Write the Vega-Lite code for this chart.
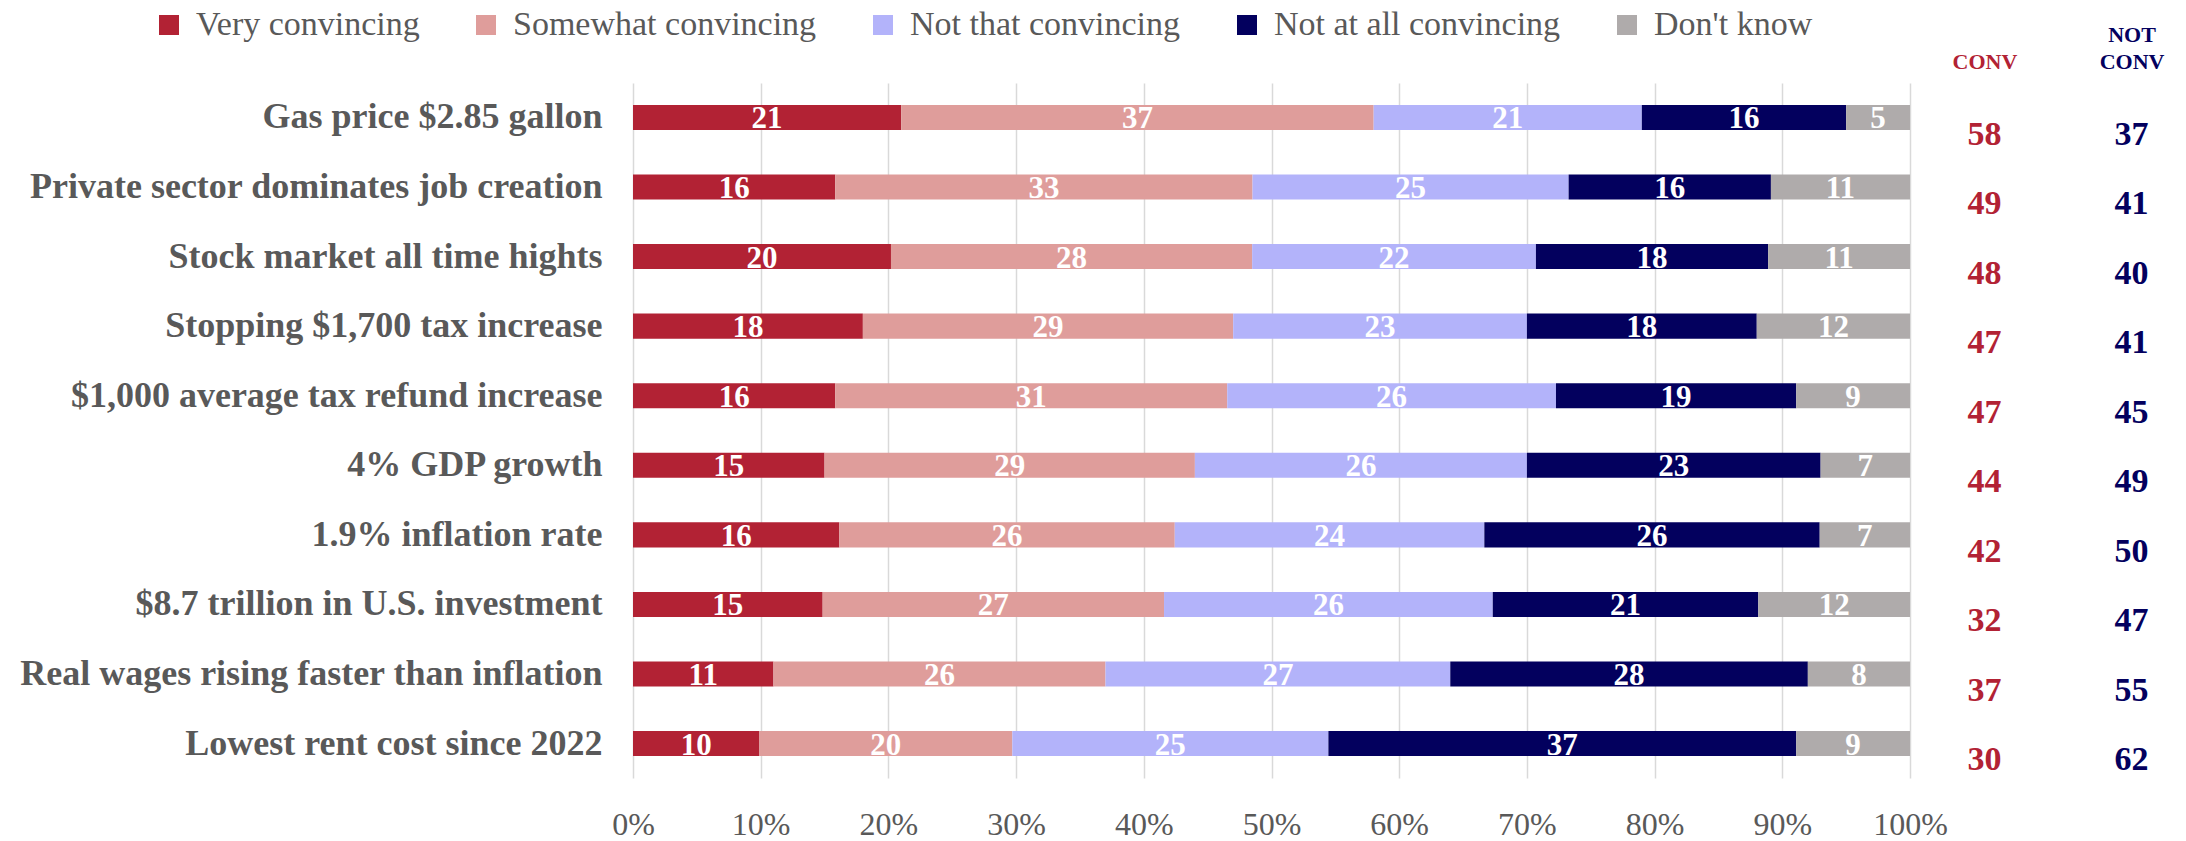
{
  "$schema": "https://vega.github.io/schema/vega-lite/v6.json",
  "padding": {"left": 0, "top": 8, "right": 0, "bottom": 0},
  "background": "white",
  "bounds": "flush",
  "spacing": 23,
  "config": {"font": "Liberation Serif", "view": {"stroke": null}},
  "resolve": {"scale": {"y": "independent", "x": "independent"}},
  "datasets": {
    "resp": [
      {"statement": "Gas price $2.85 gallon", "response": "Very convincing", "rank": 1, "pct": 21},
      {"statement": "Gas price $2.85 gallon", "response": "Somewhat convincing", "rank": 2, "pct": 37},
      {"statement": "Gas price $2.85 gallon", "response": "Not that convincing", "rank": 3, "pct": 21},
      {"statement": "Gas price $2.85 gallon", "response": "Not at all convincing", "rank": 4, "pct": 16},
      {"statement": "Gas price $2.85 gallon", "response": "Don't know", "rank": 5, "pct": 5},
      {"statement": "Private sector dominates job creation", "response": "Very convincing", "rank": 1, "pct": 16},
      {"statement": "Private sector dominates job creation", "response": "Somewhat convincing", "rank": 2, "pct": 33},
      {"statement": "Private sector dominates job creation", "response": "Not that convincing", "rank": 3, "pct": 25},
      {"statement": "Private sector dominates job creation", "response": "Not at all convincing", "rank": 4, "pct": 16},
      {"statement": "Private sector dominates job creation", "response": "Don't know", "rank": 5, "pct": 11},
      {"statement": "Stock market all time hights", "response": "Very convincing", "rank": 1, "pct": 20},
      {"statement": "Stock market all time hights", "response": "Somewhat convincing", "rank": 2, "pct": 28},
      {"statement": "Stock market all time hights", "response": "Not that convincing", "rank": 3, "pct": 22},
      {"statement": "Stock market all time hights", "response": "Not at all convincing", "rank": 4, "pct": 18},
      {"statement": "Stock market all time hights", "response": "Don't know", "rank": 5, "pct": 11},
      {"statement": "Stopping $1,700 tax increase", "response": "Very convincing", "rank": 1, "pct": 18},
      {"statement": "Stopping $1,700 tax increase", "response": "Somewhat convincing", "rank": 2, "pct": 29},
      {"statement": "Stopping $1,700 tax increase", "response": "Not that convincing", "rank": 3, "pct": 23},
      {"statement": "Stopping $1,700 tax increase", "response": "Not at all convincing", "rank": 4, "pct": 18},
      {"statement": "Stopping $1,700 tax increase", "response": "Don't know", "rank": 5, "pct": 12},
      {"statement": "$1,000 average tax refund increase", "response": "Very convincing", "rank": 1, "pct": 16},
      {"statement": "$1,000 average tax refund increase", "response": "Somewhat convincing", "rank": 2, "pct": 31},
      {"statement": "$1,000 average tax refund increase", "response": "Not that convincing", "rank": 3, "pct": 26},
      {"statement": "$1,000 average tax refund increase", "response": "Not at all convincing", "rank": 4, "pct": 19},
      {"statement": "$1,000 average tax refund increase", "response": "Don't know", "rank": 5, "pct": 9},
      {"statement": "4% GDP growth", "response": "Very convincing", "rank": 1, "pct": 15},
      {"statement": "4% GDP growth", "response": "Somewhat convincing", "rank": 2, "pct": 29},
      {"statement": "4% GDP growth", "response": "Not that convincing", "rank": 3, "pct": 26},
      {"statement": "4% GDP growth", "response": "Not at all convincing", "rank": 4, "pct": 23},
      {"statement": "4% GDP growth", "response": "Don't know", "rank": 5, "pct": 7},
      {"statement": "1.9% inflation rate", "response": "Very convincing", "rank": 1, "pct": 16},
      {"statement": "1.9% inflation rate", "response": "Somewhat convincing", "rank": 2, "pct": 26},
      {"statement": "1.9% inflation rate", "response": "Not that convincing", "rank": 3, "pct": 24},
      {"statement": "1.9% inflation rate", "response": "Not at all convincing", "rank": 4, "pct": 26},
      {"statement": "1.9% inflation rate", "response": "Don't know", "rank": 5, "pct": 7},
      {"statement": "$8.7 trillion in U.S. investment", "response": "Very convincing", "rank": 1, "pct": 15},
      {"statement": "$8.7 trillion in U.S. investment", "response": "Somewhat convincing", "rank": 2, "pct": 27},
      {"statement": "$8.7 trillion in U.S. investment", "response": "Not that convincing", "rank": 3, "pct": 26},
      {"statement": "$8.7 trillion in U.S. investment", "response": "Not at all convincing", "rank": 4, "pct": 21},
      {"statement": "$8.7 trillion in U.S. investment", "response": "Don't know", "rank": 5, "pct": 12},
      {"statement": "Real wages rising faster than inflation", "response": "Very convincing", "rank": 1, "pct": 11},
      {"statement": "Real wages rising faster than inflation", "response": "Somewhat convincing", "rank": 2, "pct": 26},
      {"statement": "Real wages rising faster than inflation", "response": "Not that convincing", "rank": 3, "pct": 27},
      {"statement": "Real wages rising faster than inflation", "response": "Not at all convincing", "rank": 4, "pct": 28},
      {"statement": "Real wages rising faster than inflation", "response": "Don't know", "rank": 5, "pct": 8},
      {"statement": "Lowest rent cost since 2022", "response": "Very convincing", "rank": 1, "pct": 10},
      {"statement": "Lowest rent cost since 2022", "response": "Somewhat convincing", "rank": 2, "pct": 20},
      {"statement": "Lowest rent cost since 2022", "response": "Not that convincing", "rank": 3, "pct": 25},
      {"statement": "Lowest rent cost since 2022", "response": "Not at all convincing", "rank": 4, "pct": 37},
      {"statement": "Lowest rent cost since 2022", "response": "Don't know", "rank": 5, "pct": 9}
    ],
    "tot": [
      {"statement": "Gas price $2.85 gallon", "group": "CONV", "value": 58},
      {"statement": "Gas price $2.85 gallon", "group": "NOT CONV", "value": 37},
      {"statement": "Private sector dominates job creation", "group": "CONV", "value": 49},
      {"statement": "Private sector dominates job creation", "group": "NOT CONV", "value": 41},
      {"statement": "Stock market all time hights", "group": "CONV", "value": 48},
      {"statement": "Stock market all time hights", "group": "NOT CONV", "value": 40},
      {"statement": "Stopping $1,700 tax increase", "group": "CONV", "value": 47},
      {"statement": "Stopping $1,700 tax increase", "group": "NOT CONV", "value": 41},
      {"statement": "$1,000 average tax refund increase", "group": "CONV", "value": 47},
      {"statement": "$1,000 average tax refund increase", "group": "NOT CONV", "value": 45},
      {"statement": "4% GDP growth", "group": "CONV", "value": 44},
      {"statement": "4% GDP growth", "group": "NOT CONV", "value": 49},
      {"statement": "1.9% inflation rate", "group": "CONV", "value": 42},
      {"statement": "1.9% inflation rate", "group": "NOT CONV", "value": 50},
      {"statement": "$8.7 trillion in U.S. investment", "group": "CONV", "value": 32},
      {"statement": "$8.7 trillion in U.S. investment", "group": "NOT CONV", "value": 47},
      {"statement": "Real wages rising faster than inflation", "group": "CONV", "value": 37},
      {"statement": "Real wages rising faster than inflation", "group": "NOT CONV", "value": 55},
      {"statement": "Lowest rent cost since 2022", "group": "CONV", "value": 30},
      {"statement": "Lowest rent cost since 2022", "group": "NOT CONV", "value": 62}
    ]
  },
  "hconcat": [
    {
      "width": 1277,
      "height": 695,
      "data": {"name": "resp"},
      "encoding": {
        "y": {
          "field": "statement", "type": "nominal",
          "sort": ["Gas price $2.85 gallon", "Private sector dominates job creation", "Stock market all time hights", "Stopping $1,700 tax increase", "$1,000 average tax refund increase", "4% GDP growth", "1.9% inflation rate", "$8.7 trillion in U.S. investment", "Real wages rising faster than inflation", "Lowest rent cost since 2022"],
          "scale": {"paddingInner": 0.64, "paddingOuter": 0.315},
          "axis": {"title": null, "domain": false, "ticks": false, "labelFontSize": 36, "labelFontWeight": "bold", "labelColor": "#595959", "labelPadding": 31, "labelLimit": 800, "minExtent": 633, "maxExtent": 633}
        }
      },
      "layer": [
        {
          "mark": {"type": "bar"},
          "encoding": {
            "x": {
              "field": "pct", "type": "quantitative", "stack": "normalize",
              "scale": {"domain": [0, 1]},
              "axis": {"title": null, "values": [0, 0.1, 0.2, 0.3, 0.4, 0.5, 0.6, 0.7, 0.8, 0.9, 1], "format": ".0%", "domain": false, "ticks": false, "grid": true, "gridColor": "#D9D9D9", "gridWidth": 1.5, "labelFontSize": 32, "labelColor": "#595959", "labelPadding": 31, "labelFlush": false}
            },
            "color": {
              "field": "response", "type": "nominal",
              "scale": {
                "domain": ["Very convincing", "Somewhat convincing", "Not that convincing", "Not at all convincing", "Don't know"],
                "range": ["#B22234", "#DF9D9B", "#B3B3FA", "#03005E", "#AFABAB"]
              },
              "legend": {"orient": "none", "legendX": -481, "legendY": -75, "direction": "horizontal", "title": null, "symbolType": "square", "symbolSize": 400, "symbolStrokeWidth": 0, "symbolOpacity": 1, "labelFontSize": 34, "labelColor": "#595959", "labelOffset": 10, "columnPadding": 49, "labelLimit": 500}
            },
            "order": {"field": "rank", "type": "quantitative"}
          }
        },
        {
          "mark": {"type": "text", "color": "white", "fontWeight": "bold", "fontSize": 31, "dy": 2},
          "encoding": {
            "x": {"field": "pct", "type": "quantitative", "stack": "normalize", "bandPosition": 0.5},
            "detail": {"field": "response"},
            "order": {"field": "rank", "type": "quantitative"},
            "text": {"field": "pct", "type": "quantitative"}
          }
        }
      ]
    },
    {
      "width": 250,
      "height": 695,
      "data": {"name": "tot"},
      "mark": {"type": "text", "fontWeight": "bold", "fontSize": 34, "dy": 17},
      "encoding": {
        "y": {
          "field": "statement", "type": "nominal",
          "sort": ["Gas price $2.85 gallon", "Private sector dominates job creation", "Stock market all time hights", "Stopping $1,700 tax increase", "$1,000 average tax refund increase", "4% GDP growth", "1.9% inflation rate", "$8.7 trillion in U.S. investment", "Real wages rising faster than inflation", "Lowest rent cost since 2022"],
          "scale": {"paddingInner": 0.64, "paddingOuter": 0.315},
          "axis": null
        },
        "x": {
          "field": "group", "type": "nominal", "sort": ["CONV", "NOT CONV"],
          "scale": {"type": "point", "padding": 0.35},
          "axis": {"orient": "top", "title": null, "domain": false, "ticks": false, "grid": false, "labelAngle": 0, "labelFontSize": 22, "labelFontWeight": "bold", "labelBaseline": "bottom", "labelPadding": 37, "labelLineHeight": 27, "labelColor": {"expr": "datum.value == 'CONV' ? '#B22234' : '#03005E'"}, "labelExpr": "datum.value == 'NOT CONV' ? ['NOT', 'CONV'] : ['', 'CONV']"}
        },
        "text": {"field": "value", "type": "quantitative"},
        "color": {"condition": {"test": "datum.group == 'CONV'", "value": "#B22234"}, "value": "#03005E"}
      }
    }
  ]
}
